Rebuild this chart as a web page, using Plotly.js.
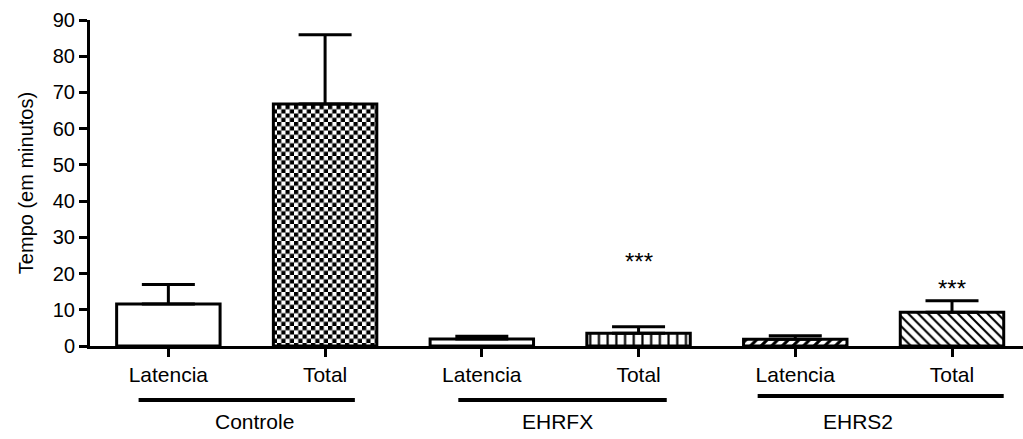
<!DOCTYPE html>
<html>
<head>
<meta charset="utf-8">
<script src="https://cdn.plot.ly/plotly-3.0.1.min.js"></script>
<style>
  html, body { margin: 0; padding: 0; background: #fff; }
  #chart { width: 1023px; height: 439px; }
</style>
</head>
<body>
<div id="chart"></div>
<script>
// ---- data ----
const groups = ['Controle', 'EHRFX', 'EHRS2'];
const measures = ['Latencia', 'Total'];
const means = [11.6, 66.8, 1.9, 3.5, 1.85, 9.3];
const errorsUp = [5.4, 19.1, 0.8, 1.8, 0.95, 3.2];
const sigLabels = ['', '', '', '***', '', '***'];
const sigValues = [null, null, null, 23.4, null, 15.8];

// ---- styling ----
const patternShapes = ['', '.', '', '|', '/', '\\'];
const patternSizes = [8, 8.5, 8, 8.7, 7.5, 7];
const patternSolidity = [0.3, 0.5, 0.3, 0.25, 0.4, 0.3];
const groupLineExtent = [[-0.19, 0.19], [-0.15, 0.18], [-0.24, 0.33]];
const groupLineY = [-0.166, -0.166, -0.153];
const groupLabelShift = [0.05, -0.02, -0.1];
const FONT = 'Liberation Sans, Arial, sans-serif';

const xIdx = [];
const tickText = [];
groups.forEach((g, gi) => measures.forEach((m, mi) => {
  xIdx.push(gi * measures.length + mi);
  tickText.push(m);
}));

const barTrace = {
  type: 'bar',
  x: xIdx,
  y: means,
  width: 0.66,
  marker: {
    color: 'white',
    line: { color: 'black', width: 3 },
    pattern: {
      shape: patternShapes,
      size: patternSizes,
      solidity: patternSolidity,
      fgcolor: 'black',
      bgcolor: 'white',
      fillmode: 'replace'
    }
  },
  error_y: {
    type: 'data',
    symmetric: false,
    array: errorsUp,
    arrayminus: means.map(() => 0),
    color: 'black',
    thickness: 3,
    width: 26.5
  },
  hoverinfo: 'skip'
};

const annotations = [];
const shapes = [];
sigLabels.forEach((s, i) => {
  if (s) annotations.push({
    x: xIdx[i], y: sigValues[i], xref: 'x', yref: 'y',
    text: s, showarrow: false, yanchor: 'middle',
    font: { family: FONT, size: 24, color: 'black' }
  });
});
groups.forEach((g, gi) => {
  const first = gi * measures.length;
  const last = first + measures.length - 1;
  shapes.push({
    type: 'line', xref: 'x', yref: 'paper',
    x0: first + groupLineExtent[gi][0], x1: last + groupLineExtent[gi][1],
    y0: groupLineY[gi], y1: groupLineY[gi],
    line: { color: 'black', width: 4 }
  });
  annotations.push({
    x: (first + last) / 2 + groupLabelShift[gi], y: -0.232, xref: 'x', yref: 'paper',
    text: g, showarrow: false, yanchor: 'middle',
    font: { family: FONT, size: 21, color: 'black' }
  });
});

const layout = {
  width: 1023, height: 439,
  margin: { l: 90, r: 0, t: 20, b: 93, pad: 0 },
  paper_bgcolor: 'white', plot_bgcolor: 'white',
  showlegend: false,
  font: { family: FONT, color: 'black' },
  xaxis: {
    range: [-0.5, 5.453],
    tickmode: 'array', tickvals: xIdx, ticktext: tickText,
    tickfont: { family: FONT, size: 21, color: 'black' },
    showline: true, linecolor: 'black', linewidth: 3,
    ticks: 'outside', ticklen: 8, tickwidth: 3, tickcolor: 'black',
    showgrid: false, zeroline: false, fixedrange: true
  },
  yaxis: {
    range: [0, 90], dtick: 10, tick0: 0,
    tickfont: { family: FONT, size: 20, color: 'black' },
    showline: true, linecolor: 'black', linewidth: 3,
    ticks: 'outside', ticklen: 8, tickwidth: 3, tickcolor: 'black',
    showgrid: false, zeroline: false, fixedrange: true,
    title: { text: 'Tempo (em minutos)', font: { family: FONT, size: 20, color: 'black' }, standoff: 14 }
  },
  annotations: annotations,
  shapes: shapes
};

Plotly.newPlot('chart', [barTrace], layout, { staticPlot: true, displayModeBar: false }).then(gd => {
  // turn the '.' pattern into a checkerboard, as in the reference
  const NS = 'http://www.w3.org/2000/svg';
  const paths = gd.querySelectorAll('.bars .point path');
  paths.forEach((p, i) => {
    if (patternShapes[i] !== '.') return;
    const fill = p.style.fill || p.getAttribute('fill') || '';
    const m = fill.match(/#([^"')]+)/);
    if (!m) return;
    const pat = document.getElementById(m[1]);
    if (!pat) return;
    const c = patternSizes[i];
    const h = c / 2;
    pat.setAttribute('width', c);
    pat.setAttribute('height', c);
    while (pat.firstChild) pat.removeChild(pat.firstChild);
    const mk = (x, y, w, col) => {
      const r = document.createElementNS(NS, 'rect');
      r.setAttribute('x', x); r.setAttribute('y', y);
      r.setAttribute('width', w); r.setAttribute('height', w);
      r.setAttribute('fill', col);
      pat.appendChild(r);
    };
    mk(0, 0, c, 'white');
    mk(0, 0, h, 'black');
    mk(h, h, h, 'black');
  });
});
</script>
</body>
</html>
